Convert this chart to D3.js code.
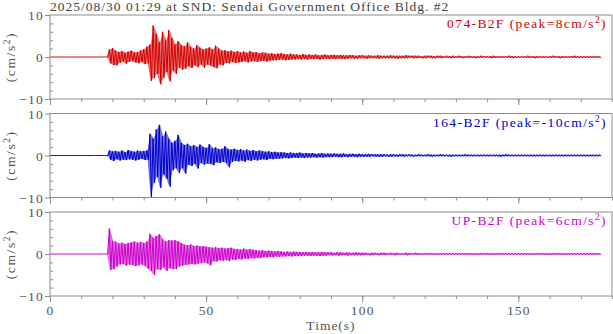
<!DOCTYPE html>
<html lang="en">
<head>
<meta charset="utf-8">
<title>SND seismogram</title>
<script src="https://d3js.org/d3.v7.min.js"></script>
<style>
  body{margin:0;background:#fff;}
  text{font-family:"Liberation Serif","Times New Roman",serif;}
</style>
</head>
<body>
<div id="chart"></div>
<script>
// envelope of each trace, one max/min pair per second starting at t=0
var tStep = 1
var titleText = "2025/08/30 01:29 at SND: Sendai Government Office Bldg. #2"
var channelNames = ["074-B2F", "164-B2F", "UP-B2F"]
var peakValues = [8, -10, 6]
var timeTicks = [0, 50, 100, 150]
var ampTicks = [10, 0, -10]

var redMax = [
  0,0,0,0,0,0,0,0,0,0,
  0,0,0,0,0,0,0,0,0,1.8,
  2.1,1.5,1.2,1.4,1.0,1.3,1.5,1.1,1.2,1.6,
  1.9,2.5,3.0,7.5,5.5,3.5,6.0,4.0,6.4,4.5,
  3.0,3.8,2.8,2.5,3.5,2.4,2.0,2.8,2.2,1.8,
  2.0,2.3,1.8,2.7,2.0,1.5,1.6,1.3,1.5,1.2,
  1.4,1.1,1.3,1.0,1.4,1.1,1.2,0.9,1.1,1.0,
  0.8,0.9,0.7,0.8,0.9,0.7,0.6,0.8,0.6,0.6,
  0.5,0.7,0.5,0.6,0.5,0.6,0.4,0.5,0.6,0.4,
  0.5,0.5,0.4,0.5,0.4,0.4,0.5,0.4,0.3,0.4,
  0.4,0.3,0.4,0.3,0.3,0.4,0.3,0.3,0.3,0.4,
  0.3,0.3,0.3,0.3,0.4,0.3,0.3,0.3,0.3,0.2,
  0.3,0.3,0.3,0.2,0.3,0.3,0.2,0.3,0.2,0.3,
  0.2,0.3,0.2,0.2,0.3,0.2,0.2,0.2,0.3,0.2,
  0.2,0.2,0.3,0.2,0.2,0.2,0.2,0.3,0.2,0.2,
  0.2,0.2,0.2,0.3,0.2,0.2,0.2,0.2,0.2,0.2,
  0.2,0.3,0.2,0.2,0.2,0.2,0.2,0.2,0.3,0.2,
  0.2,0.2,0.2,0.2,0.2,0.2,0.2
]
var redMin = [
  0,0,0,0,0,0,0,0,0,0,
  0,0,0,0,0,0,0,0,0,-1.5,
  -1.9,-2.0,-1.4,-1.1,-1.6,-1.2,-1.0,-1.3,-1.5,-1.2,
  -1.7,-1.5,-5.7,-5.0,-4.0,-6.5,-5.0,-3.5,-5.8,-3.2,
  -4.0,-2.5,-3.0,-2.8,-2.2,-2.6,-2.0,-2.4,-1.8,-2.5,
  -1.8,-2.0,-2.4,-2.7,-1.8,-2.0,-1.4,-1.5,-1.2,-1.4,
  -1.3,-1.2,-1.0,-1.3,-1.1,-1.0,-1.2,-1.0,-0.9,-1.1,
  -0.9,-0.8,-0.8,-0.7,-0.6,-0.8,-0.7,-0.6,-0.6,-0.5,
  -0.6,-0.5,-0.6,-0.5,-0.5,-0.4,-0.6,-0.5,-0.4,-0.5,
  -0.4,-0.5,-0.4,-0.4,-0.5,-0.4,-0.3,-0.4,-0.4,-0.3,
  -0.3,-0.4,-0.3,-0.3,-0.3,-0.4,-0.3,-0.3,-0.3,-0.3,
  -0.3,-0.4,-0.3,-0.3,-0.3,-0.2,-0.3,-0.3,-0.2,-0.3,
  -0.3,-0.2,-0.3,-0.3,-0.2,-0.3,-0.2,-0.2,-0.3,-0.2,
  -0.2,-0.2,-0.3,-0.2,-0.2,-0.2,-0.3,-0.2,-0.2,-0.2,
  -0.2,-0.3,-0.2,-0.2,-0.2,-0.2,-0.2,-0.2,-0.3,-0.2,
  -0.2,-0.2,-0.2,-0.2,-0.2,-0.3,-0.2,-0.2,-0.2,-0.2,
  -0.2,-0.2,-0.2,-0.3,-0.2,-0.2,-0.2,-0.2,-0.2,-0.2,
  -0.2,-0.2,-0.2,-0.2,-0.2,-0.2,-0.2
]
var blueMax = [
  0,0,0,0,0,0,0,0,0,0,
  0,0,0,0,0,0,0,0,0,1.2,
  1.0,1.1,0.9,1.2,0.8,1.3,1.0,0.9,1.2,1.0,
  1.1,1.2,5.2,4.0,6.2,7.3,4.5,5.7,4.0,3.0,
  3.5,4.9,3.0,2.5,2.8,2.2,2.5,2.0,2.6,2.0,
  1.8,2.7,1.7,1.9,1.5,1.6,2.2,1.5,1.4,1.6,
  1.3,1.5,1.2,1.4,1.1,1.3,1.0,1.2,1.0,0.9,
  1.0,0.8,0.9,0.7,0.8,0.7,0.6,0.7,0.6,0.6,
  0.7,0.5,0.6,0.5,0.6,0.4,0.5,0.6,0.4,0.5,
  0.4,0.5,0.4,0.4,0.5,0.3,0.4,0.4,0.3,0.4,
  0.3,0.3,0.4,0.3,0.3,0.3,0.3,0.3,0.2,0.3,
  0.3,0.2,0.3,0.3,0.2,0.3,0.2,0.2,0.3,0.2,
  0.2,0.3,0.2,0.2,0.2,0.3,0.2,0.2,0.2,0.2,
  0.2,0.2,0.2,0.3,0.2,0.2,0.2,0.2,0.2,0.2,
  0.2,0.2,0.2,0.2,0.2,0.2,0.3,0.2,0.2,0.2,
  0.2,0.2,0.2,0.2,0.2,0.2,0.2,0.2,0.2,0.2,
  0.2,0.2,0.2,0.2,0.2,0.2,0.2,0.2,0.2,0.2,
  0.2,0.2,0.2,0.2,0.2,0.2,0.2
]
var blueMin = [
  0,0,0,0,0,0,0,0,0,0,
  0,0,0,0,0,0,0,0,0,-1.0,
  -1.3,-0.9,-1.2,-1.0,-1.1,-0.9,-1.0,-1.2,-1.0,-0.8,
  -1.1,-1.0,-10.0,-6.5,-5.0,-7.7,-4.5,-5.5,-7.4,-3.5,
  -3.0,-4.2,-3.0,-4.3,-2.2,-2.5,-2.0,-3.1,-1.8,-2.2,
  -1.9,-2.0,-2.3,-1.6,-1.8,-1.5,-1.7,-2.8,-1.5,-1.3,
  -1.4,-1.2,-1.5,-1.1,-1.3,-1.0,-1.2,-1.0,-0.9,-1.1,
  -0.8,-0.9,-0.8,-0.8,-0.7,-0.6,-0.7,-0.6,-0.5,-0.6,
  -0.5,-0.6,-0.5,-0.5,-0.4,-0.5,-0.4,-0.5,-0.4,-0.4,
  -0.4,-0.3,-0.4,-0.4,-0.3,-0.4,-0.3,-0.3,-0.4,-0.3,
  -0.3,-0.3,-0.3,-0.2,-0.3,-0.3,-0.3,-0.2,-0.3,-0.3,
  -0.2,-0.3,-0.2,-0.3,-0.2,-0.2,-0.3,-0.2,-0.2,-0.2,
  -0.2,-0.2,-0.3,-0.2,-0.2,-0.2,-0.2,-0.2,-0.3,-0.2,
  -0.2,-0.2,-0.2,-0.2,-0.2,-0.2,-0.2,-0.2,-0.2,-0.2,
  -0.2,-0.2,-0.2,-0.2,-0.3,-0.2,-0.2,-0.2,-0.2,-0.2,
  -0.2,-0.2,-0.2,-0.2,-0.2,-0.2,-0.2,-0.2,-0.2,-0.2,
  -0.2,-0.2,-0.2,-0.2,-0.2,-0.2,-0.2,-0.2,-0.2,-0.2,
  -0.2,-0.2,-0.2,-0.2,-0.2,-0.2,-0.2
]
var magentaMax = [
  0,0,0,0,0,0,0,0,0,0,
  0,0,0,0,0,0,0,0,0,6.1,
  3.1,2.9,2.5,2.7,2.4,2.6,2.8,3.0,2.7,2.9,
  2.6,3.0,4.8,3.8,4.3,4.7,3.5,3.0,3.3,3.2,
  3.3,3.0,2.6,2.2,2.1,2.3,1.9,2.0,1.8,1.9,
  1.7,1.6,1.5,1.6,1.4,1.5,1.3,1.4,1.5,1.2,
  1.2,1.1,1.3,1.0,1.2,1.0,0.9,0.8,0.9,0.7,
  0.8,0.7,0.6,0.7,0.6,0.5,0.6,0.5,0.6,0.5,
  0.5,0.4,0.5,0.4,0.5,0.4,0.4,0.5,0.4,0.4,
  0.4,0.3,0.4,0.4,0.3,0.4,0.3,0.3,0.4,0.3,
  0.3,0.3,0.2,0.3,0.3,0.2,0.3,0.3,0.2,0.3,
  0.2,0.3,0.2,0.2,0.3,0.2,0.2,0.3,0.2,0.2,
  0.2,0.2,0.2,0.2,0.2,0.2,0.2,0.2,0.2,0.2,
  0.2,0.2,0.2,0.2,0.2,0.2,0.2,0.2,0.2,0.2,
  0.2,0.2,0.2,0.2,0.2,0.2,0.2,0.2,0.2,0.2,
  0.2,0.2,0.2,0.2,0.2,0.2,0.2,0.2,0.2,0.2,
  0.2,0.2,0.2,0.2,0.2,0.2,0.2,0.2,0.2,0.2,
  0.2,0.2,0.2,0.2,0.2,0.2,0.2
]
var magentaMin = [
  0,0,0,0,0,0,0,0,0,0,
  0,0,0,0,0,0,0,0,0,-3.8,
  -3.6,-3.0,-2.5,-2.4,-2.8,-2.5,-2.6,-2.9,-2.7,-2.5,
  -2.8,-3.5,-4.0,-5.0,-3.6,-3.8,-3.2,-4.0,-3.4,-3.6,
  -3.6,-3.0,-2.8,-2.6,-2.5,-2.4,-2.5,-2.3,-2.2,-2.0,
  -2.2,-2.7,-1.7,-1.8,-1.5,-1.6,-1.4,-1.7,-1.3,-1.4,
  -1.2,-1.3,-1.1,-1.2,-1.0,-1.1,-0.9,-1.0,-0.8,-0.8,
  -0.7,-0.8,-0.6,-0.7,-0.6,-0.6,-0.5,-0.6,-0.5,-0.5,
  -0.5,-0.4,-0.4,-0.5,-0.4,-0.4,-0.5,-0.4,-0.4,-0.3,
  -0.4,-0.3,-0.4,-0.3,-0.3,-0.4,-0.3,-0.3,-0.3,-0.3,
  -0.3,-0.2,-0.3,-0.3,-0.2,-0.3,-0.2,-0.3,-0.2,-0.2,
  -0.3,-0.2,-0.2,-0.2,-0.3,-0.2,-0.2,-0.2,-0.2,-0.2,
  -0.2,-0.2,-0.2,-0.2,-0.2,-0.2,-0.2,-0.2,-0.2,-0.2,
  -0.2,-0.2,-0.2,-0.2,-0.2,-0.2,-0.2,-0.2,-0.2,-0.2,
  -0.2,-0.2,-0.2,-0.2,-0.2,-0.2,-0.2,-0.2,-0.2,-0.2,
  -0.2,-0.2,-0.2,-0.2,-0.2,-0.2,-0.2,-0.2,-0.2,-0.2,
  -0.2,-0.2,-0.2,-0.2,-0.2,-0.2,-0.2,-0.2,-0.2,-0.2,
  -0.2,-0.2,-0.2,-0.2,-0.2,-0.2,-0.2
]

var traceMax = [redMax, blueMax, magentaMax]
var traceMin = [redMin, blueMin, magentaMin]
var traceColors = ["#d40000", "#0000cc", "#cc00cc"]

var w = 613, h = 334
var left = 50, right = 612
var panelTop0 = 15, panelGap = 98.5, panelH = 84
var axisGray = "#8c8c8c", textGray = "#555"

var svg = d3.select("#chart").append("svg")
    .attr("width", w).attr("height", h)

var xScale = d3.scaleLinear().domain([0, 180]).range([left, right])

svg.append("text")
    .attr("x", 50).attr("y", 11)
    .attr("font-size", 13.5).attr("fill", "#444")
    .attr("letter-spacing", 1.0)
    .text(titleText)

channelNames.forEach(function(name, k){
    var top = panelTop0 + k * panelGap
    var yScale = d3.scaleLinear().domain([-10, 10]).range([top + panelH, top])
    var g = svg.append("g")

    // filled band between the per-second min and max
    var band = d3.area()
        .x(function(d, i){ return xScale(i * tStep + tStep / 4) })
        .y0(function(d, i){ return yScale(traceMin[k][i]) })
        .y1(function(d){ return yScale(d) })
    g.append("path")
        .datum(traceMax[k])
        .attr("d", band)
        .attr("fill", traceColors[k])
        .attr("fill-opacity", 0.55)

    // waveform: each second goes up to its max then down to its min
    var pts = []
    traceMax[k].forEach(function(v, i){
        pts.push([i * tStep, v])
        pts.push([i * tStep + tStep / 2, traceMin[k][i]])
    })
    var line = d3.line()
        .x(function(d){ return xScale(d[0]) })
        .y(function(d){ return yScale(d[1]) })
    g.append("path")
        .datum(pts)
        .attr("d", line)
        .attr("fill", "none")
        .attr("stroke", traceColors[k])
        .attr("stroke-width", 1)

    // minor time ticks
    g.append("g")
        .attr("transform", "translate(0," + (top + panelH) + ")")
        .call(d3.axisBottom(xScale).tickValues(d3.range(0, 181, 10)).tickSize(3).tickFormat(""))
    // major time ticks
    var xMaj = g.append("g")
        .attr("transform", "translate(0," + (top + panelH) + ")")
        .call(d3.axisBottom(xScale).tickValues(timeTicks).tickSize(6)
              .tickFormat(k == 2 ? d3.format("d") : ""))
    xMaj.selectAll("text").attr("dy", null).attr("y", 19)

    // y ticks
    g.append("g")
        .attr("transform", "translate(" + left + ",0)")
        .call(d3.axisLeft(yScale).tickValues([-8,-6,-4,-2,2,4,6,8]).tickSize(-3).tickFormat(""))
    var yMaj = g.append("g")
        .attr("transform", "translate(" + left + ",0)")
        .call(d3.axisLeft(yScale).tickValues(ampTicks).tickSize(5).tickFormat(d3.format("d")))
    yMaj.selectAll("text").attr("x", -6).attr("dy", "0.35em")

    g.selectAll(".domain").remove()
    g.selectAll(".tick line").attr("stroke", axisGray)
    g.selectAll(".tick text")
        .attr("fill", textGray)
        .attr("font-size", 13.5)
        .attr("font-family", "Liberation Serif, serif")
        .attr("letter-spacing", 1.2)

    g.append("rect")
        .attr("x", left).attr("y", top)
        .attr("width", right - left).attr("height", panelH)
        .attr("fill", "none").attr("stroke", axisGray)

    // y label
    var yl = g.append("text")
        .attr("transform", "translate(15," + (top + panelH / 2) + ") rotate(-90)")
        .attr("text-anchor", "middle")
        .attr("font-size", 13.5).attr("fill", textGray)
        .attr("letter-spacing", 1.6)
    yl.append("tspan").text("(cm/s")
    yl.append("tspan").attr("dy", -5).attr("font-size", 9.5).text("2")
    yl.append("tspan").attr("dy", 5).text(")")

    // channel label
    var lab = g.append("text")
        .attr("x", 607).attr("y", top + 13)
        .attr("text-anchor", "end")
        .attr("font-size", 13.5).attr("fill", traceColors[k])
        .attr("letter-spacing", 1.4)
    lab.append("tspan").text(name + " (peak=" + peakValues[k] + "cm/s")
    lab.append("tspan").attr("dy", -5).attr("font-size", 9.5).text("2")
    lab.append("tspan").attr("dy", 5).text(")")
})

svg.append("text")
    .attr("x", (left + right) / 2).attr("y", 330)
    .attr("text-anchor", "middle")
    .attr("font-size", 13.5).attr("fill", textGray)
    .attr("letter-spacing", 1.0)
    .text("Time(s)")
</script>
</body>
</html>
